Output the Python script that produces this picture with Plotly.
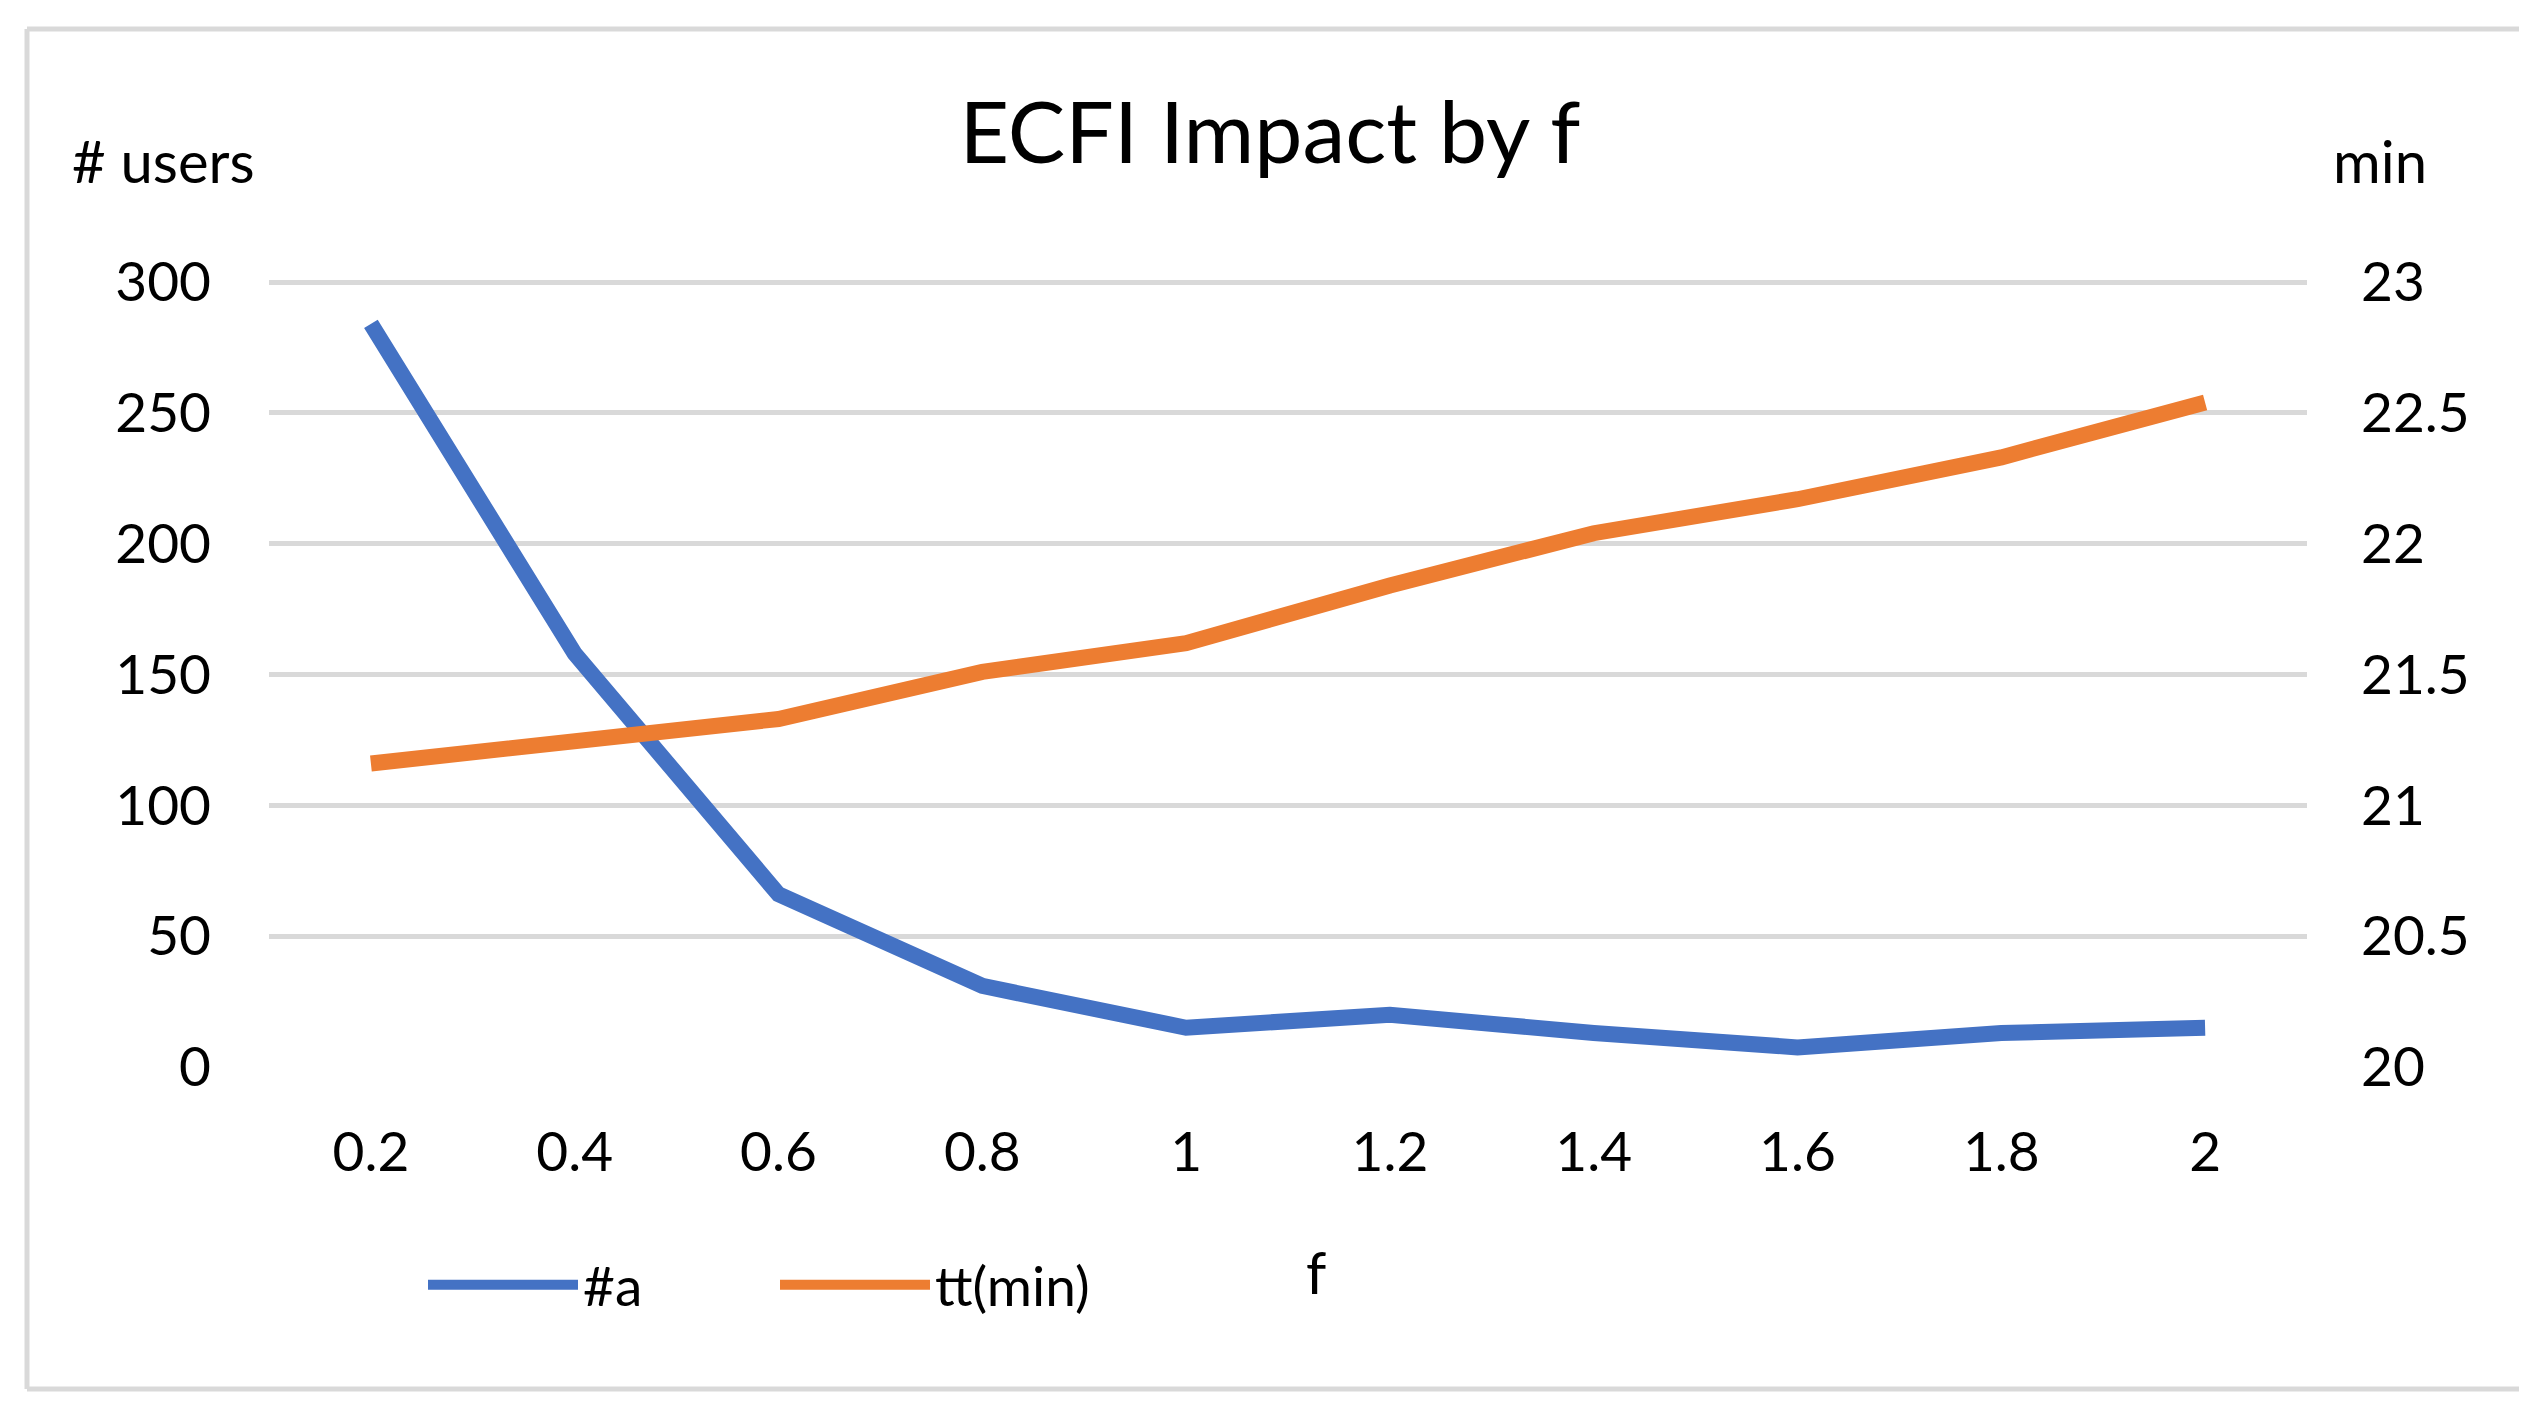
import plotly.graph_objects as go

# ---- data ----
f_labels = ["0.2", "0.4", "0.6", "0.8", "1", "1.2", "1.4", "1.6", "1.8", "2"]
num_users = [284, 158, 66, 31, 15, 20, 13, 7.5, 13, 15]
tt_min = [21.16, 21.24, 21.33, 21.51, 21.62, 21.84, 22.04, 22.17, 22.33, 22.54]
left_ticks = [0, 50, 100, 150, 200, 250, 300]
right_ticks = [20, 20.5, 21, 21.5, 22, 22.5, 23]

OFF = 8                      # default page body margin
PW, PH = 2544, 1417          # page size
W, H = PW - 2 * OFF, PH - 2 * OFF
L, R, T, B = 269, 2307, 281, 1067  # plot area in page px
FONT = "Lato"
BLUE = "#4472C4"
ORANGE = "#ED7D31"
GRID = "#D9D9D9"


def px(x):
    return (x - L) / (R - L)


def py(y):
    return (B - y) / (B - T)


fig = go.Figure()
fig.add_trace(go.Scatter(x=f_labels, y=num_users, name="#a", mode="lines",
                         line=dict(color=BLUE, width=16), yaxis="y"))
fig.add_trace(go.Scatter(x=f_labels, y=tt_min, name="tt(min)", mode="lines",
                         line=dict(color=ORANGE, width=16), yaxis="y2"))

fig.update_layout(
    width=W, height=H, autosize=False,
    margin=dict(l=L - OFF, r=(W + OFF) - R, t=T - OFF, b=(H + OFF) - B, pad=0),
    paper_bgcolor="white", plot_bgcolor="white",
    font=dict(family=FONT, color="black", size=55),
    title=dict(text="ECFI Impact by f", x=(1270 - OFF) / W, xanchor="center",
               y=1 - (133 - OFF) / H, yanchor="middle", yref="container",
               font=dict(size=86, family=FONT, color="black")),
    xaxis=dict(type="category", range=[-0.5, len(f_labels) - 0.5],
               showgrid=False, zeroline=False, showline=False,
               ticks="", ticklabelstandoff=48,
               tickfont=dict(size=55, family=FONT, color="black")),
    yaxis=dict(range=[0, 300.4], tickvals=left_ticks, showgrid=True, gridcolor=GRID,
               gridwidth=5, zeroline=False, showline=False, ticks="",
               ticklabelstandoff=57, tickfont=dict(size=55, family=FONT, color="black")),
    yaxis2=dict(range=[20, 23.004], tickvals=right_ticks, overlaying="y", side="right",
                showgrid=False, zeroline=False, showline=False, ticks="",
                ticklabelstandoff=53, tickfont=dict(size=55, family=FONT, color="black")),
    showlegend=True,
    legend=dict(orientation="h", x=px(423), xanchor="left", y=py(1285), yanchor="middle",
                font=dict(size=55, family=FONT, color="black"),
                itemwidth=150, entrywidth=187, entrywidthmode="pixels",
                bgcolor="rgba(0,0,0,0)"),
)

annotations = [
    dict(text="# users", x=px(70), xanchor="left", y=py(161), yanchor="middle"),
    dict(text="min", x=px(2331), xanchor="left", y=py(161), yanchor="middle"),
    dict(text="f", x=px(1316), xanchor="center", y=py(1271), yanchor="middle"),
]
for a in annotations:
    a.update(xref="paper", yref="paper", showarrow=False,
             font=dict(size=58, family=FONT, color="black"))
fig.update_layout(annotations=annotations)

# outer chart border (left, top, bottom)
border = [((27, 29), (27, 1389)), ((27, 29), (2519, 29)), ((27, 1389), (2519, 1389))]
for (x0, y0), (x1, y1) in border:
    fig.add_shape(type="line", xref="paper", yref="paper",
                  x0=px(x0), y0=py(y0), x1=px(x1), y1=py(y1),
                  line=dict(color=GRID, width=5), layer="below")

fig.write_html("out.html")
